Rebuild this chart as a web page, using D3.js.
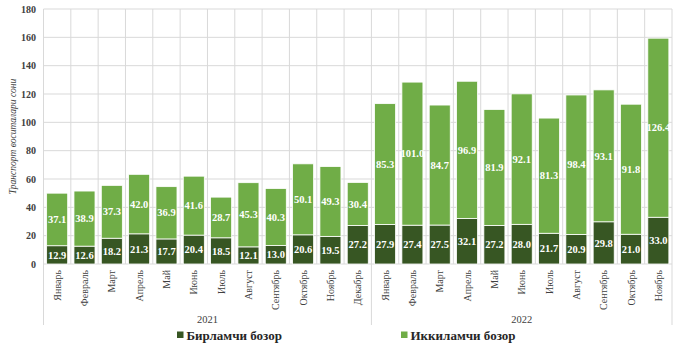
<!DOCTYPE html>
<html>
<head>
  <meta charset="utf-8">
  <script src="https://cdn.jsdelivr.net/npm/d3@7"></script>
  <style>
    body { margin: 0; background: #fff; }
    svg text { font-family: "Liberation Serif", serif; }
  </style>
</head>
<body>
  <svg width="680" height="351" id="chart"></svg>
  <script>
    // data
    const months2021 = ['Январь', 'Февраль', 'Март', 'Апрель', 'Май', 'Июнь', 'Июль', 'Август', 'Сентябрь', 'Октябрь', 'Ноябрь', 'Декабрь'];
    const months2022 = ['Январь', 'Февраль', 'Март', 'Апрель', 'Май', 'Июнь', 'Июль', 'Август', 'Сентябрь', 'Октябрь', 'Ноябрь'];
    const years = ['2021', '2022'];
    const primary = [12.9, 12.6, 18.2, 21.3, 17.7, 20.4, 18.5, 12.1, 13.0, 20.6, 19.5, 27.2,
      27.9, 27.4, 27.5, 32.1, 27.2, 28.0, 21.7, 20.9, 29.8, 21.0, 33.0];
    const secondary = [37.1, 38.9, 37.3, 42.0, 36.9, 41.6, 28.7, 45.3, 40.3, 50.1, 49.3, 30.4,
      85.3, 101.0, 84.7, 96.9, 81.9, 92.1, 81.3, 98.4, 93.1, 91.8, 126.4];
    const seriesNames = ['Бирламчи бозор', 'Иккиламчи бозор'];
    const yTicks = [0, 20, 40, 60, 80, 100, 120, 140, 160, 180];
    const yTitle = 'Транспорт воситалари сони';

    const colors = ['#375623', '#70ad47'];
    const gridColor = '#d9d9d9';

    const svg = d3.select('#chart');
    const margin = { top: 9, left: 43.5, right: 672, bottom: 264 };

    const labels = months2021.concat(months2022);
    const idx = d3.range(labels.length);
    const rows = idx.map(i => ({ i: i, label: labels[i], p: primary[i], s: secondary[i] }));

    const xScale = d3.scaleBand().domain(idx).range([margin.left, margin.right])
      .paddingInner(0.23).paddingOuter(0.115);
    const yScale = d3.scaleLinear().domain([0, 180]).range([margin.bottom, margin.top]);
    const step = xScale.step();

    // grid
    const grid = svg.append('g');
    grid.selectAll('.hgrid').data(yTicks).join('line')
      .attr('x1', margin.left).attr('x2', margin.right)
      .attr('y1', d => yScale(d)).attr('y2', d => yScale(d))
      .attr('stroke', gridColor).attr('stroke-width', 1);
    grid.selectAll('.vgrid').data(d3.range(labels.length + 1)).join('line')
      .attr('x1', d => margin.left + d * step).attr('x2', d => margin.left + d * step)
      .attr('y1', margin.top).attr('y2', margin.bottom)
      .attr('stroke', gridColor).attr('stroke-width', 1);

    // year separators below axis
    const seps = [0, months2021.length, labels.length];
    grid.selectAll('.sep').data(seps).join('line')
      .attr('x1', d => margin.left + d * step).attr('x2', d => margin.left + d * step)
      .attr('y1', margin.bottom).attr('y2', 325)
      .attr('stroke', gridColor).attr('stroke-width', 1);

    // stacked bars
    const stack = d3.stack().keys(['p', 's']);
    const stacked = stack(rows);
    const barG = svg.append('g');
    stacked.forEach((layer, k) => {
      barG.selectAll('.bar' + k).data(layer).join('rect')
        .attr('x', d => xScale(d.data.i))
        .attr('width', xScale.bandwidth())
        .attr('y', d => yScale(d[1]))
        .attr('height', d => yScale(d[0]) - yScale(d[1]))
        .attr('fill', colors[k])
        .attr('stroke', '#fff').attr('stroke-width', 0.8);
    });

    // data labels
    stacked.forEach((layer, k) => {
      barG.selectAll('.lab' + k).data(layer).join('text')
        .attr('x', d => xScale(d.data.i) + xScale.bandwidth() / 2)
        .attr('y', d => yScale((d[0] + d[1]) / 2))
        .attr('dy', '0.35em')
        .attr('text-anchor', 'middle')
        .attr('fill', '#fff')
        .attr('font-size', 10.5)
        .attr('font-weight', 'bold')
        .text(d => d.data[k == 0 ? 'p' : 's'].toFixed(1));
    });

    // y axis labels
    svg.append('g').selectAll('text').data(yTicks).join('text')
      .attr('x', 36).attr('y', d => yScale(d)).attr('dy', '0.35em')
      .attr('text-anchor', 'end')
      .attr('font-size', 10).attr('font-weight', 'bold').attr('fill', '#404040')
      .text(d => d);

    svg.append('text')
      .attr('transform', `translate(16, ${(margin.top + margin.bottom) / 2}) rotate(-90)`)
      .attr('text-anchor', 'middle')
      .attr('font-size', 9.5).attr('font-style', 'italic').attr('fill', '#404040')
      .text(yTitle);

    // month labels
    svg.append('g').selectAll('text').data(rows).join('text')
      .attr('transform', d => `translate(${xScale(d.i) + xScale.bandwidth() / 2}, 270) rotate(-90)`)
      .attr('dy', '0.35em')
      .attr('text-anchor', 'end')
      .attr('font-size', 10).attr('fill', '#404040')
      .text(d => d.label);

    // year labels
    svg.append('g').selectAll('text').data(years).join('text')
      .attr('x', (d, i) => margin.left + (seps[i] + seps[i + 1]) / 2 * step)
      .attr('y', 323)
      .attr('text-anchor', 'middle')
      .attr('font-size', 10.5).attr('fill', '#404040')
      .text(d => d);

    // legend
    const legX = [177, 401];
    const leg = svg.append('g').selectAll('g').data(seriesNames).join('g')
      .attr('transform', (d, i) => `translate(${legX[i]}, 335)`);
    leg.append('rect').attr('x', 0).attr('y', -3.5).attr('width', 6.5).attr('height', 6.5)
      .attr('fill', (d, i) => colors[i]);
    leg.append('text').attr('x', 9.5).attr('dy', '0.35em')
      .attr('font-size', 13).attr('font-weight', 'bold').attr('fill', '#262626')
      .text(d => d);
  </script>
</body>
</html>
